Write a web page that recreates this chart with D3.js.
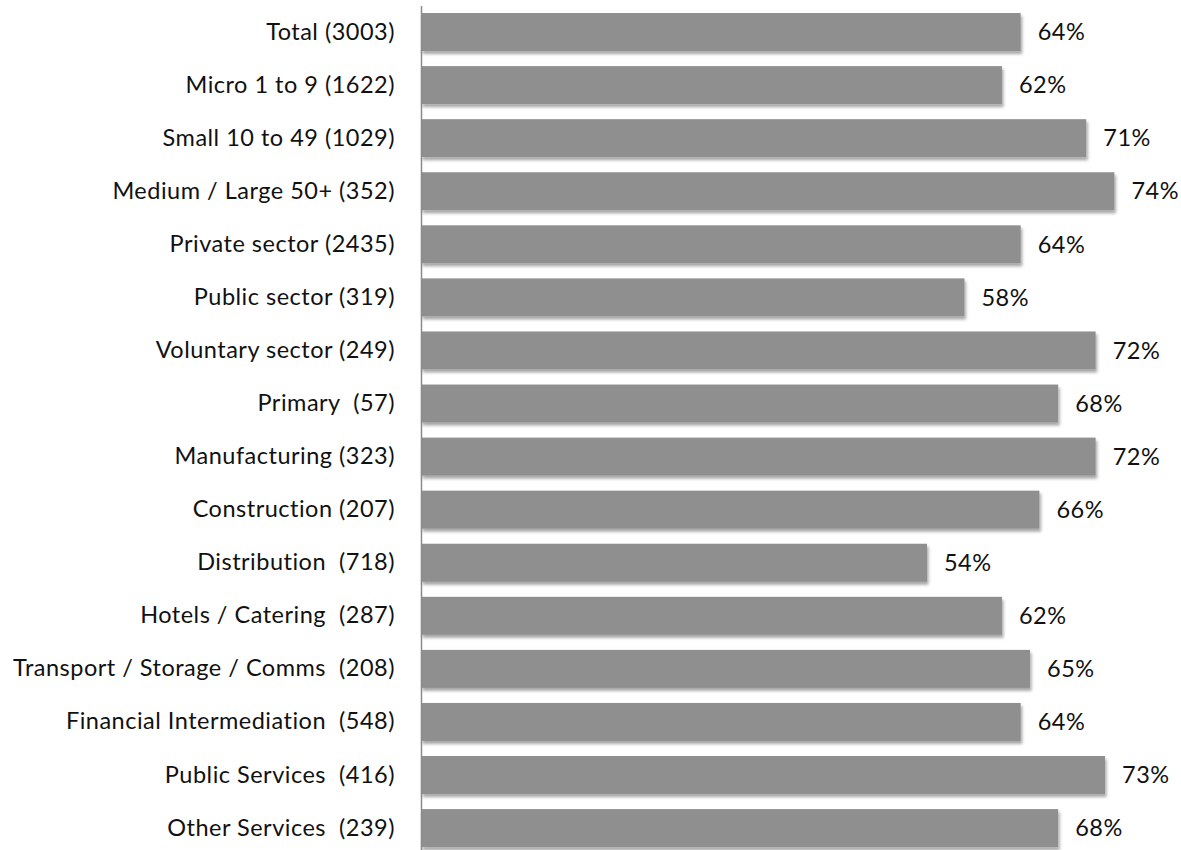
<!DOCTYPE html>
<html>
<head>
<meta charset="utf-8">
<script src="https://cdn.jsdelivr.net/npm/d3@7"></script>
<style>
  html, body { margin: 0; padding: 0; background: #fff; }
  svg { display: block; }
  text {
    font-family: Lato, "Open Sans", sans-serif;
    fill: #111;
    white-space: pre;
    font-variant-ligatures: none;
    letter-spacing: 0.5px;
  }
</style>
</head>
<body>
<svg id="chart" width="1181" height="850"></svg>
<script>
// Share of employers, by size and sector (base sizes in brackets)
const categories = [
  "Total (3003)",
  "Micro 1 to 9 (1622)",
  "Small 10 to 49 (1029)",
  "Medium / Large 50+ (352)",
  "Private sector (2435)",
  "Public sector (319)",
  "Voluntary sector (249)",
  "Primary  (57)",
  "Manufacturing (323)",
  "Construction (207)",
  "Distribution  (718)",
  "Hotels / Catering  (287)",
  "Transport / Storage / Comms  (208)",
  "Financial Intermediation  (548)",
  "Public Services  (416)",
  "Other Services  (239)"
];
const values = [64, 62, 71, 74, 64, 58, 72, 68, 72, 66, 54, 62, 65, 64, 73, 68];

const svg = d3.select("#chart");
const W = 1181, H = 850;
const FONT = 23.5;

const x = d3.scaleLinear().domain([0, 100]).range([421, 421 + 937]);
const y = d3.scaleBand()
  .domain(categories)
  .range([5.5, 5.5 + 16 * 53.07])
  .paddingInner(0.284)
  .paddingOuter(0.142);

// soft shadow under each bar
const defs = svg.append("defs");
const f = defs.append("filter").attr("id", "shadow")
  .attr("x", "-5%").attr("y", "-20%").attr("width", "115%").attr("height", "160%");
f.append("feDropShadow")
  .attr("dx", 1.5).attr("dy", 3).attr("stdDeviation", 1.8)
  .attr("flood-color", "#000").attr("flood-opacity", 0.35);

svg.append("g").selectAll("rect")
  .data(categories)
  .join("rect")
  .attr("x", x(0))
  .attr("y", d => y(d))
  .attr("width", (d, i) => x(values[i]) - x(0))
  .attr("height", y.bandwidth())
  .attr("fill", "#8f8f8f")
  .attr("filter", "url(#shadow)");

// vertical category axis line
svg.append("line")
  .attr("x1", 421.5).attr("x2", 421.5)
  .attr("y1", 6).attr("y2", H)
  .attr("stroke", "#8a8a8a").attr("stroke-width", 1.5);

// category labels
const yAxis = d3.axisLeft(y).tickSize(0).tickPadding(0);
const gy = svg.append("g").attr("transform", "translate(395,0)").call(yAxis);
gy.select(".domain").remove();
gy.selectAll("text")
  .attr("font-size", FONT)
  .style("font-family", "Lato, 'Open Sans', sans-serif")
  .attr("fill", "#111");

// value labels
svg.append("g").selectAll("text")
  .data(categories)
  .join("text")
  .attr("x", (d, i) => x(values[i]) + 17)
  .attr("y", d => y(d) + y.bandwidth() / 2)
  .attr("dy", "0.35em")
  .attr("font-size", FONT)
  .text((d, i) => values[i] + "%");
</script>
</body>
</html>
